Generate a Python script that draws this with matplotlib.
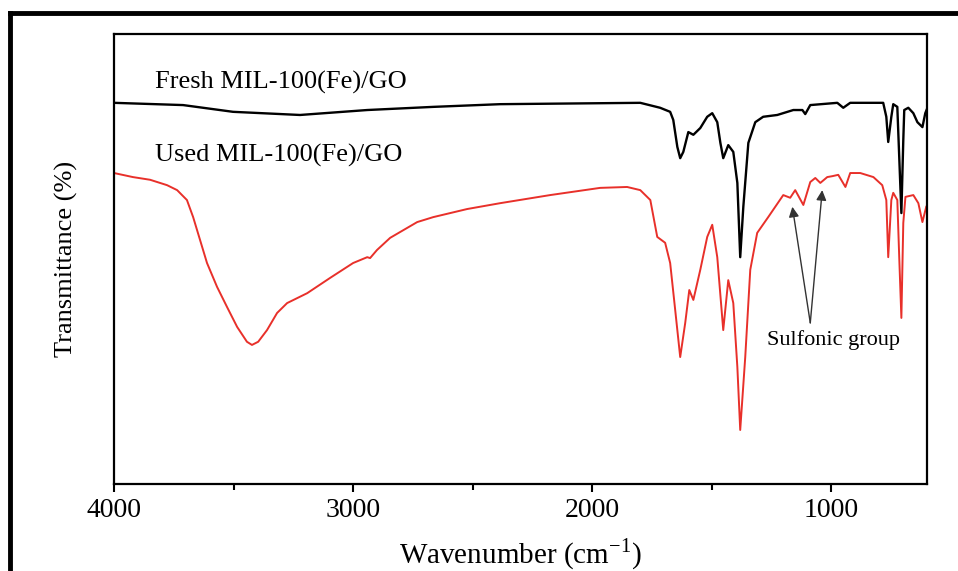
import matplotlib
matplotlib.use("Agg")
import matplotlib.pyplot as plt
from matplotlib.lines import Line2D
from matplotlib.ticker import MultipleLocator

#--------------------------------------------------------------------#
# FTIR spectra (wavenumber cm-1, transmittance a.u.)
fresh_wn = [4000, 3711, 3502, 3222, 2941, 2665, 2385, 1799, 1716, 1674,
            1661, 1644, 1632, 1619, 1598, 1577, 1548, 1519, 1498, 1477,
            1464, 1452, 1431, 1410, 1393, 1381, 1368, 1347, 1318, 1285,
            1226, 1159, 1121, 1109, 1088, 975, 950, 921, 783, 770,
            762, 749, 741, 724, 716, 707, 699, 695, 678, 657,
            640, 619, 607, 598]
fresh_t = [84.7, 84.2, 82.7, 82.0, 83.1, 83.8, 84.4, 84.7, 83.6, 82.7,
           80.9, 74.9, 72.4, 73.8, 78.2, 77.6, 79.1, 81.6, 82.4, 80.4,
           75.8, 72.4, 75.3, 73.8, 66.9, 50.4, 61.6, 75.8, 80.4, 81.6,
           82.0, 83.1, 83.1, 82.2, 84.2, 84.7, 83.6, 84.7, 84.7, 81.6,
           76.0, 81.6, 84.4, 83.8, 72.7, 60.2, 76.4, 83.1, 83.6, 82.4,
           80.4, 79.3, 82.4, 83.6]

used_wn = [4000, 3921, 3849, 3778, 3736, 3695, 3669, 3640, 3611, 3569,
           3527, 3485, 3444, 3423, 3397, 3360, 3318, 3276, 3192, 3096,
           3000, 2941, 2929, 2900, 2845, 2732, 2665, 2523, 2385, 2176,
           1967, 1854, 1799, 1757, 1728, 1695, 1674, 1653, 1632, 1611,
           1594, 1577, 1548, 1519, 1498, 1477, 1452, 1431, 1410, 1393,
           1381, 1360, 1339, 1310, 1264, 1201, 1172, 1151, 1117, 1088,
           1067, 1046, 1017, 996, 971, 941, 921, 879, 824, 787,
           770, 762, 749, 741, 724, 716, 707, 699, 690, 657,
           636, 619, 603]
used_t = [69.1, 68.2, 67.6, 66.4, 65.3, 63.1, 59.3, 54.2, 49.1, 43.8,
          39.3, 34.9, 31.6, 30.9, 31.6, 34.2, 38.0, 40.2, 42.4, 45.8,
          49.1, 50.4, 50.2, 52.0, 54.7, 58.2, 59.3, 61.1, 62.4, 64.2,
          65.8, 66.0, 65.3, 63.1, 54.9, 53.6, 49.1, 38.7, 28.2, 35.8,
          43.1, 40.9, 47.6, 54.9, 57.6, 50.4, 34.2, 45.3, 40.2, 26.0,
          12.0, 28.2, 47.6, 55.8, 59.3, 64.2, 63.6, 65.3, 62.0, 67.1,
          68.0, 66.9, 68.2, 68.4, 68.7, 66.0, 69.1, 69.1, 68.2, 66.4,
          63.1, 50.4, 63.1, 64.7, 63.1, 50.4, 36.9, 58.0, 63.8, 64.2,
          62.4, 58.2, 61.6]

labels = ["Fresh MIL-100(Fe)/GO", "Used MIL-100(Fe)/GO"]
sulfonic_wn = [1163, 1038]
sulfonic_t = [61.6, 65.3]

#--------------------------------------------------------------------#
plt.rcParams["font.family"] = ["Liberation Serif", "DejaVu Serif"]
plt.rcParams["mathtext.fontset"] = "custom"
plt.rcParams["mathtext.rm"] = "Liberation Serif"

fig = plt.figure(figsize=(9.58, 5.71), dpi=100)
ax = fig.add_axes([0.119, 0.1524, 0.8486, 0.7881])

ax.plot(fresh_wn, fresh_t, color="black", lw=1.7, solid_joinstyle="round")
ax.plot(used_wn, used_t, color="#e8302a", lw=1.4, solid_joinstyle="round")

ax.set_xlim(4000, 600)
ax.set_ylim(0, 100)
ax.set_yticks([])
ax.xaxis.set_major_locator(MultipleLocator(1000))
ax.xaxis.set_minor_locator(MultipleLocator(500))
ax.tick_params(axis="x", which="major", direction="out", length=6, width=1.5,
               labelsize=20, pad=4)
ax.tick_params(axis="x", which="minor", direction="out", length=4, width=1.5)
for s in ax.spines.values():
    s.set_linewidth(1.6)

ax.set_xlabel(r"Wavenumber (cm$^{\mathregular{-1}}$)", fontsize=21, labelpad=10)
ax.set_ylabel("Transmittance (%)", fontsize=19, labelpad=26)

# curve labels
ax.text(3830, 89.3, labels[0], fontsize=19, va="center", ha="left")
ax.text(3830, 73.1, labels[1], fontsize=19, va="center", ha="left")

# sulfonic group annotation
for wn, t in zip(sulfonic_wn, sulfonic_t):
    ax.annotate("", xy=(wn, t), xytext=(1088, 35.8),
                arrowprops=dict(arrowstyle="-|>", color="#333333", lw=1.0,
                                mutation_scale=15, shrinkA=0, shrinkB=0))
ax.text(992, 32.0, "Sulfonic group", fontsize=16, ha="center", va="center")

# outer frame (only top and left edges visible in the crop)
fig.add_artist(Line2D([0.0104, 1.0], [0.977, 0.977], color="black", lw=3.5,
                      transform=fig.transFigure))
fig.add_artist(Line2D([0.0104, 0.0104], [0.0, 0.977], color="black", lw=3.5,
                      transform=fig.transFigure))

fig.savefig("out.png", dpi=100)
